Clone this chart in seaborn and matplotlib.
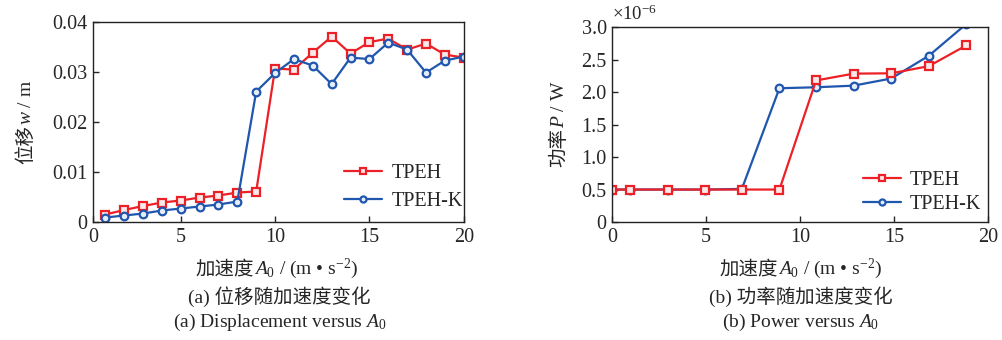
import numpy as np
import pandas as pd
import matplotlib
matplotlib.use("Agg")
import matplotlib.pyplot as plt
import seaborn as sns
from matplotlib.ticker import FixedLocator, FuncFormatter
from matplotlib.font_manager import FontProperties

# Displacement vs. acceleration amplitude
acc_disp = [1, 2, 3, 4, 5, 6, 7, 8, 9, 10, 11, 12, 13, 14, 15, 16, 17, 18, 19, 20]
disp_tpeh = [0.0015, 0.0024, 0.0032, 0.0039, 0.0043, 0.0049, 0.0053, 0.0059, 0.0061, 0.0307,
             0.0305, 0.0339, 0.0371, 0.0337, 0.0360, 0.0367, 0.0345, 0.0357, 0.0335, 0.0329]
disp_tpehk = [0.0009, 0.0013, 0.0017, 0.0023, 0.0027, 0.0031, 0.0035, 0.0041, 0.0261, 0.0298,
              0.0326, 0.0313, 0.0276, 0.0329, 0.0326, 0.0359, 0.0345, 0.0299, 0.0323, 0.0331]

# Output power vs. acceleration amplitude
acc_power = [0.0, 0.95, 2.95, 4.95, 6.9, 8.9, 10.85, 12.85, 14.85, 16.85, 18.85]
power_tpeh = [0.50e-6, 0.50e-6, 0.50e-6, 0.50e-6, 0.50e-6, 0.50e-6,
              2.18e-6, 2.285e-6, 2.29e-6, 2.40e-6, 2.72e-6]
power_tpehk = [0.50e-6, 0.50e-6, 0.50e-6, 0.50e-6, 0.51e-6, 2.06e-6,
               2.075e-6, 2.10e-6, 2.21e-6, 2.56e-6, 3.05e-6]

series_names = ["TPEH", "TPEH-K"]
disp_ticks = [0, 0.01, 0.02, 0.03, 0.04]
power_ticks = [0, 0.5e-6, 1.0e-6, 1.5e-6, 2.0e-6, 2.5e-6, 3.0e-6]
x_ticks = [0, 5, 10, 15, 20]

RED = "#EC2127"
BLUE = "#1F56AE"

sns.set_style("ticks")
plt.rcParams["font.family"] = ["Liberation Serif", "Noto Sans CJK SC"]
plt.rcParams["mathtext.fontset"] = "custom"
plt.rcParams["mathtext.rm"] = "Liberation Serif"
plt.rcParams["mathtext.it"] = "Liberation Serif:italic"
plt.rcParams["axes.unicode_minus"] = True
plt.rcParams["xtick.direction"] = "in"
plt.rcParams["ytick.direction"] = "in"

FS = 14.5
CJK = FontProperties(family="Noto Sans CJK SC", size=FS - 0.5)
LAT = FontProperties(family="Liberation Serif", size=FS - 0.5)

fig = plt.figure(figsize=(10.02, 3.40), dpi=100)
ax1 = fig.add_axes([0.0928, 0.347, 0.370, 0.588])
ax2 = fig.add_axes([0.611, 0.347, 0.375, 0.573])

line_kw = dict(linewidth=1.6, markersize=5.5, markerfacecolor="#fbe9e9", markeredgewidth=1.6)
blue_kw = {**line_kw, "markerfacecolor": "#e6edf8"}

df1 = pd.DataFrame({"A": acc_disp * 2,
                    "w": disp_tpeh + disp_tpehk,
                    "s": [series_names[0]] * len(acc_disp) + [series_names[1]] * len(acc_disp)})
sns.lineplot(data=df1[df1.s == series_names[0]], x="A", y="w", ax=ax1, color=RED,
             marker="s", markeredgecolor=RED, label=series_names[0], **line_kw)
sns.lineplot(data=df1[df1.s == series_names[1]], x="A", y="w", ax=ax1, color=BLUE,
             marker="o", markeredgecolor=BLUE, label=series_names[1], **blue_kw)

df2 = pd.DataFrame({"A": acc_power * 2,
                    "P": power_tpeh + power_tpehk,
                    "s": [series_names[0]] * len(acc_power) + [series_names[1]] * len(acc_power)})
sns.lineplot(data=df2[df2.s == series_names[1]], x="A", y="P", ax=ax2, color=BLUE,
             marker="o", markeredgecolor=BLUE, label=series_names[1], **blue_kw)
sns.lineplot(data=df2[df2.s == series_names[0]], x="A", y="P", ax=ax2, color=RED,
             marker="s", markeredgecolor=RED, label=series_names[0], **line_kw)

# Axis limits and tick labels
ax1.set_xlim(0.35, 20)
ax1.xaxis.set_major_locator(FixedLocator([0.35] + x_ticks[1:]))
ax1.set_xticklabels([str(t) for t in x_ticks])
ax1.set_ylim(0, 0.04)
ax1.yaxis.set_major_locator(FixedLocator(disp_ticks))
ax1.yaxis.set_major_formatter(FuncFormatter(lambda v, p: "0" if v == 0 else f"{v:.2f}"))

ax2.set_xlim(0, 20)
ax2.xaxis.set_major_locator(FixedLocator(x_ticks))
ax2.set_ylim(0, 3.0e-6)
ax2.yaxis.set_major_locator(FixedLocator(power_ticks))
ax2.yaxis.set_major_formatter(FuncFormatter(lambda v, p: "0" if v == 0 else f"{v * 1e6:.1f}"))
ax2.text(0.0, 1.015, r"$\times10^{-6}$", transform=ax2.transAxes, fontsize=FS - 1,
         ha="left", va="bottom")

for ax in (ax1, ax2):
    ax.tick_params(axis="both", labelsize=FS, length=4, width=1.0, pad=4,
                   top=False, right=False)
    for sp in ax.spines.values():
        sp.set_linewidth(1.0)
        sp.set_color("#222222")
    ax.set_xlabel("")
    ax.set_ylabel("")

# Legends: TPEH first, then TPEH-K
for ax, anchor, spacing in ((ax1, (0.655, 0.015), 0.45), (ax2, (0.645, 0.0), 0.25)):
    handles, labels = ax.get_legend_handles_labels()
    order = [labels.index(n) for n in series_names]
    ax.legend([handles[i] for i in order], [labels[i] for i in order],
              loc="lower left", bbox_to_anchor=anchor, frameon=False, fontsize=FS,
              handlelength=1.9, handletextpad=0.45, labelspacing=spacing, borderaxespad=0.0,
              markerscale=0.8)


def mixed_label(pieces, cx, cy, rotation=0):
    """Lay out text pieces with different fonts end to end, centred on (cx, cy)."""
    texts = [fig.text(0, 0, s, fontproperties=fp, rotation=rotation, rotation_mode="anchor",
                      ha="left", va="baseline") for s, fp in pieces]
    renderer = fig.canvas.get_renderer()
    W, H = fig.bbox.width, fig.bbox.height
    sizes = []
    for t in texts:
        bb = t.get_window_extent(renderer)
        sizes.append(bb.width if rotation == 0 else bb.height)
    total = sum(sizes)
    if rotation == 0:
        pos = cx * W - total / 2
        for t, s in zip(texts, sizes):
            t.set_position((pos / W, cy))
            pos += s
    else:
        pos = cy * H - total / 2
        for t, s in zip(texts, sizes):
            t.set_position((cx, pos / H))
            pos += s


xlabel_pieces = [("加速度", CJK), (r"$\mathit{A}_0$ / (m • s$^{-2}$)", LAT)]
mixed_label(xlabel_pieces, 0.276, 1 - 274 / 340)
mixed_label(xlabel_pieces, 0.799, 1 - 274 / 340)
mixed_label([("位移", CJK), (r"$\mathit{w}$ / m", LAT)], 31 / 1002, 1 - 122 / 340, rotation=90)
mixed_label([("功率", CJK), (r"$\mathit{P}$ / W", LAT)], 564 / 1002, 1 - 124 / 340, rotation=90)

# Sub-figure captions
for cx, zh, en in ((0.279, "(a) 位移随加速度变化", "(a) Displacement versus $\\mathit{A}_0$"),
                   (0.799, "(b) 功率随加速度变化", "(b) Power versus $\\mathit{A}_0$")):
    fig.text(cx, 1 - 297 / 340, zh, ha="center", va="center", fontsize=FS - 0.5)
    fig.text(cx, 1 - 322 / 340, en, ha="center", va="center", fontsize=FS - 0.5)

fig.savefig("out.png", dpi=100)
